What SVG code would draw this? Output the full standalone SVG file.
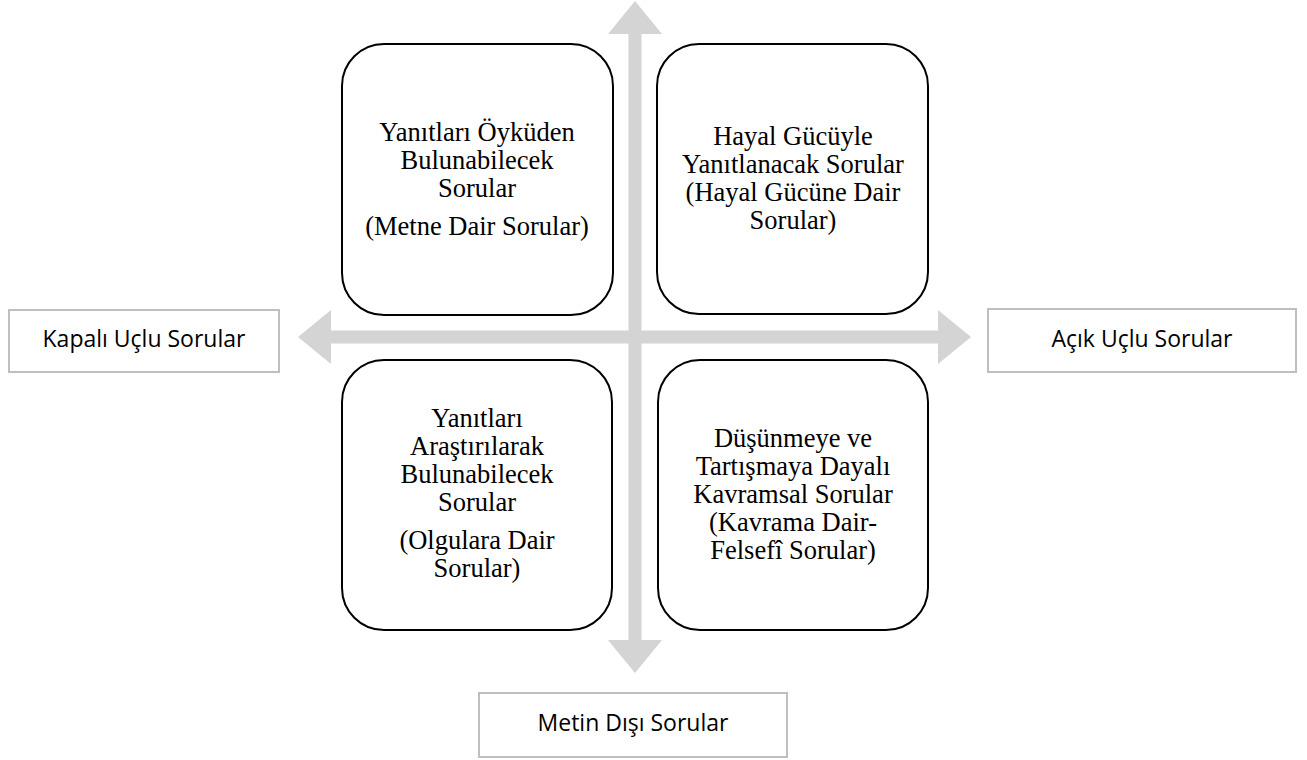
<svg xmlns="http://www.w3.org/2000/svg" width="1307" height="760" viewBox="0 0 1307 760">
<style>
.q{fill:#fff;stroke:#000;stroke-width:2}
.lbl{fill:#fff;stroke:#bfbfbf;stroke-width:2}
.arr{fill:#d4d4d4;stroke:none}
.st{font-family:"Liberation Serif","Times New Roman",serif;font-size:26.5px;fill:#000;text-anchor:middle}
.ss{font-family:"Open Sans","Liberation Sans",Arial,sans-serif;font-size:23px;fill:#000;text-anchor:middle}
</style>
<rect width="1307" height="760" fill="#fff"/>
<g id="connectors">
<polygon class="arr" points="635,1 662,34 641.5,34 641.5,640 662,640 635,673 608,640 628.5,640 628.5,34 608,34"/>
<polygon class="arr" points="298,337 331,310 331,330.5 938,330.5 938,310 971,337 938,364 938,343.5 331,343.5 331,364"/>
</g>
<g id="q-metne">
<rect class="q" x="342" y="44" width="271" height="271" rx="42"/>
<text class="st" x="477" y="141">Yanıtları Öyküden</text>
<text class="st" x="477" y="169">Bulunabilecek</text>
<text class="st" x="477" y="197">Sorular</text>
<text class="st" x="477" y="235">(Metne Dair Sorular)</text>
</g>
<g id="q-hayal">
<rect class="q" x="657" y="44" width="271" height="270" rx="42"/>
<text class="st" x="793" y="145">Hayal Gücüyle</text>
<text class="st" x="793" y="173">Yanıtlanacak Sorular</text>
<text class="st" x="793" y="201">(Hayal Gücüne Dair</text>
<text class="st" x="793" y="229">Sorular)</text>
</g>
<g id="q-olgu">
<rect class="q" x="342" y="360" width="270" height="270" rx="42"/>
<text class="st" x="477" y="427">Yanıtları</text>
<text class="st" x="477" y="455">Araştırılarak</text>
<text class="st" x="477" y="483">Bulunabilecek</text>
<text class="st" x="477" y="511">Sorular</text>
<text class="st" x="477" y="549">(Olgulara Dair</text>
<text class="st" x="477" y="577">Sorular)</text>
</g>
<g id="q-kavram">
<rect class="q" x="658" y="360" width="270" height="270" rx="42"/>
<text class="st" x="793" y="447">Düşünmeye ve</text>
<text class="st" x="793" y="475">Tartışmaya Dayalı</text>
<text class="st" x="793" y="503">Kavramsal Sorular</text>
<text class="st" x="793" y="531">(Kavrama Dair-</text>
<text class="st" x="793" y="559">Felsefî Sorular)</text>
</g>
<g id="lbl-kapali">
<rect class="lbl" x="9" y="310" width="270" height="62"/>
<text class="ss" x="144" y="347">Kapalı Uçlu Sorular</text>
</g>
<g id="lbl-acik">
<rect class="lbl" x="988" y="309" width="308" height="63"/>
<text class="ss" x="1142" y="347">Açık Uçlu Sorular</text>
</g>
<g id="lbl-metin">
<rect class="lbl" x="479" y="693" width="308" height="64"/>
<text class="ss" x="633" y="731">Metin Dışı Sorular</text>
</g>
</svg>
